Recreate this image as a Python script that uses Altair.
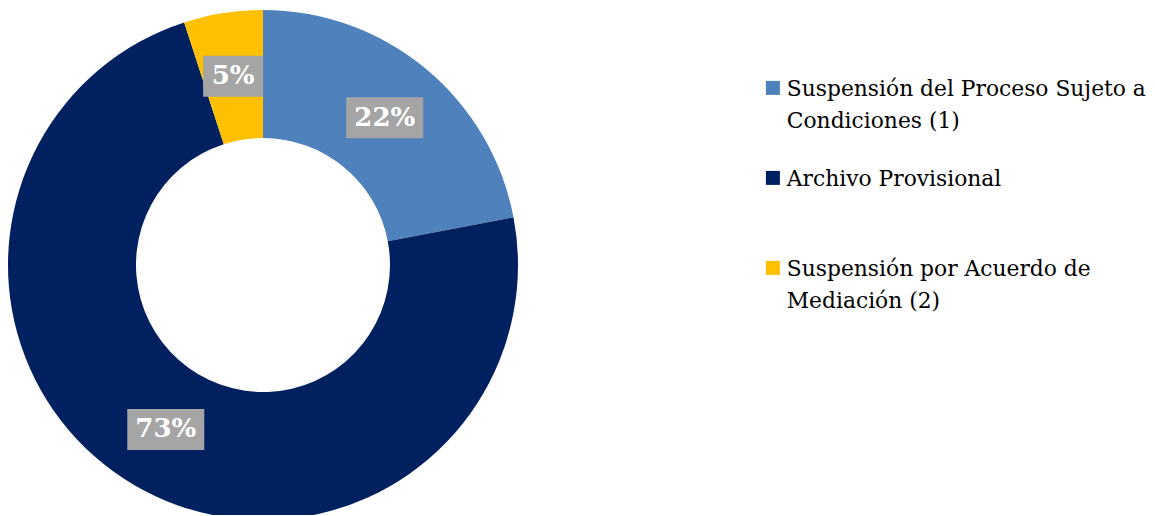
import altair as alt
import pandas as pd

categories = [
    "Suspensión del Proceso Sujeto a\nCondiciones (1)",
    "Archivo Provisional",
    "Suspensión por Acuerdo de\nMediación (2)",
]
values = [22, 73, 5]
labels = ["22%", "73%", "5%"]
colors = ["#4F81BD", "#002060", "#FFC000"]

df = pd.DataFrame({
    "cat": categories,
    "value": values,
    "label": labels,
    "idx": list(range(len(categories))),
})

W, H = 510, 500
R_OUT, R_IN, R_LAB = 255, 127, 191

color_scale = alt.Scale(domain=categories, range=colors)

base = alt.Chart(df)

arc = base.mark_arc(radius=R_OUT, innerRadius=R_IN).encode(
    theta=alt.Theta("value:Q", stack=True),
    order=alt.Order("idx:Q", sort="ascending"),
    color=alt.Color(
        "cat:N",
        scale=color_scale,
        sort=categories,
        legend=alt.Legend(
            title=None,
            orient="none",
            legendX=754,
            legendY=62,
            symbolType="square",
            symbolSize=196,
            symbolStrokeWidth=0,
            symbolOpacity=1,
            labelFont="DejaVu Serif",
            labelFontSize=21.8,
            labelColor="#000000",
            labelLimit=500,
            labelOffset=3,
            labelBaseline="alphabetic",
            labelExpr="split(datum.label, '\\n')",
            gridAlign="all",
            rowPadding=34,
        ),
    ),
)

# label positions: middle angle of each slice, through linear x/y scales
pos = base.transform_window(
    cum="sum(value)", sort=[alt.SortField("idx", order="ascending")]
).transform_joinaggregate(
    total="sum(value)"
).transform_calculate(
    mid="(datum.cum - datum.value / 2) / datum.total * 2 * PI",
).transform_calculate(
    px=f"{R_LAB} * sin(datum.mid)",
    py=f"{R_LAB} * cos(datum.mid)",
    shp="length(datum.label) == 2 ? 'M-1,-0.683L1,-0.683L1,0.683L-1,0.683Z' : 'M-1,-0.532L1,-0.532L1,0.532L-1,0.532Z'",
    sz="length(datum.label) == 2 ? 3600 : 5929",
)

xs = alt.X("px:Q", scale=alt.Scale(domain=[-W / 2, W / 2], nice=False, zero=False), axis=None)
ys = alt.Y("py:Q", scale=alt.Scale(domain=[-H / 2, H / 2], nice=False, zero=False), axis=None)

box = pos.mark_point(filled=True, opacity=1, color="#A5A5A5", strokeWidth=0).encode(
    x=xs,
    y=ys,
    shape=alt.Shape("shp:N", scale=None),
    size=alt.Size("sz:Q", scale=None),
)

txt = pos.mark_text(
    font="DejaVu Serif", fontSize=26, fontWeight="bold", color="white",
    align="center", baseline="middle",
).encode(
    x=xs,
    y=ys,
    text="label:N",
)

chart = alt.layer(arc, box, txt).properties(
    width=W,
    height=H,
    autosize=alt.AutoSizeParams(type="none"),
    padding={"top": 7, "left": 0, "right": 628, "bottom": 0},
).configure(
    style={"guide-label": {"lineHeight": 32, "dy": 8}},
    view=alt.ViewConfig(strokeWidth=0, stroke="transparent"),
)

chart.save("out.html", embed_options={"renderer": "svg", "actions": False})
